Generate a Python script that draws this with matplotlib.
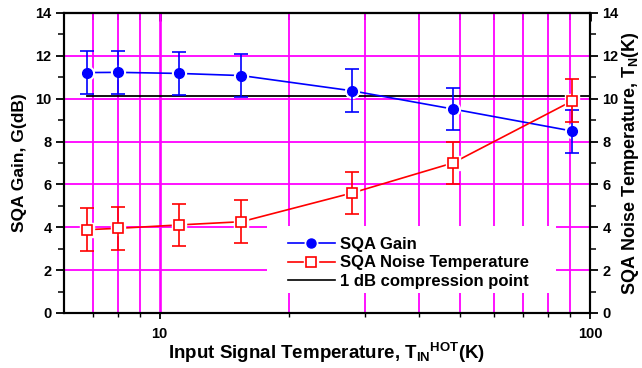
import numpy as np
import matplotlib
matplotlib.use("Agg")
import matplotlib.pyplot as plt
from matplotlib.ticker import FixedLocator, NullFormatter, FixedFormatter, MultipleLocator
from matplotlib.patches import Rectangle
from matplotlib.lines import Line2D

plt.rcParams['font.family'] = ['Liberation Sans', 'DejaVu Sans']
plt.rcParams['font.weight'] = 'bold'
plt.rcParams['mathtext.fontset'] = 'custom'
plt.rcParams['mathtext.rm'] = 'Liberation Sans:bold'
plt.rcParams['mathtext.bf'] = 'Liberation Sans:bold'
plt.rcParams['mathtext.it'] = 'Liberation Sans:bold'
plt.rcParams['mathtext.default'] = 'bf'

# data
t_in = [6.8, 8.0, 11.1, 15.5, 28, 48, 91]
gain = [11.22, 11.23, 11.18, 11.08, 10.37, 9.52, 8.49]
gain_err = [1, 1, 1, 1, 1, 1, 1]
noise_temp = [3.89, 3.95, 4.11, 4.26, 5.6, 7.0, 9.9]
noise_err = [1, 1, 1, 1, 1, 1, 1]
compression = 10.15

blue = '#0000FF'
red = '#FF0000'
mag = '#FF00FF'
minor_x = [7, 8, 9, 20, 30, 40, 50, 60, 70, 80, 90]

fig = plt.figure(figsize=(6.42, 3.68), dpi=100)
ax = fig.add_axes([64/642, 55/368, 526/642, 300/368])

ax.set_xscale('log')
ax.set_xlim(6, 100)
ax.set_ylim(0, 14)

# grid
for v in minor_x:
    ax.axvline(v, color=mag, lw=1.3, zorder=0.5)
ax.axvline(10, color=mag, lw=1.9, zorder=0.5)
for v in [2, 4, 6, 8, 10, 12]:
    ax.axhline(v, color=mag, lw=1.3, zorder=0.5)

# white box behind legend
ax.add_patch(Rectangle((0.386, 0.067), 0.549, 0.223, transform=ax.transAxes,
                       facecolor='white', edgecolor='none', zorder=0.8))

# compression line
ax.plot([t_in[0], 100], [compression, compression], color='black', lw=1.3, zorder=2)

# gain
ax.plot(t_in, gain, color=blue, lw=1.2, zorder=3)
ax.plot(t_in, gain, ls='none', marker='o', ms=10, color='white', zorder=4)
ax.errorbar(t_in, gain, yerr=gain_err, fmt='none', ecolor=blue, elinewidth=1.2,
            capsize=5, capthick=1.2, zorder=5)
ax.plot(t_in, gain, ls='none', marker='o', ms=7, color=blue, zorder=6)

# noise temperature
ax.plot(t_in, noise_temp, color=red, lw=1.2, zorder=3)
ax.plot(t_in, noise_temp, ls='none', marker='s', ms=10, color='white', zorder=4)
ax.errorbar(t_in, noise_temp, yerr=noise_err, fmt='none', ecolor=red, elinewidth=1.2,
            capsize=5, capthick=1.2, zorder=5)
ax.plot(t_in, noise_temp, ls='none', marker='s', ms=7, mfc='white', mec=red,
        mew=1.2, zorder=6)

# legend
h_gain = (Line2D([], [], color=blue, lw=1.2),
          Line2D([], [], ls='none', marker='o', ms=9, color='white'),
          Line2D([], [], ls='none', marker='o', ms=6.5, color=blue))
h_noise = (Line2D([], [], color=red, lw=1.2),
           Line2D([], [], ls='none', marker='s', ms=10, color='white'),
           Line2D([], [], ls='none', marker='s', ms=7, mfc='white', mec=red, mew=1.2))
h_comp = Line2D([], [], color='black', lw=1.2)
leg = ax.legend([h_gain, h_noise, h_comp],
                ['SQA Gain', 'SQA Noise Temperature', '1 dB compression point'],
                loc='upper left', bbox_to_anchor=(0.405, 0.29), frameon=False,
                fontsize=12, handlelength=2.8, handletextpad=0.3,
                labelspacing=0.22, borderpad=0.15)
leg.set_zorder(7)

# ticks
ax.xaxis.set_major_locator(FixedLocator([10, 100]))
ax.xaxis.set_major_formatter(FixedFormatter(['10', '100']))
ax.xaxis.set_minor_locator(FixedLocator(minor_x))
ax.xaxis.set_minor_formatter(NullFormatter())
ax.tick_params(axis='x', which='major', direction='out', length=4, width=1.3,
               labelsize=10.5, pad=6)
ax.tick_params(axis='x', which='minor', direction='out', length=3, width=1)
top = ax.secondary_xaxis('top')
top.xaxis.set_major_locator(FixedLocator([10, 100]))
top.xaxis.set_minor_locator(FixedLocator(minor_x))
top.xaxis.set_minor_formatter(NullFormatter())
top.tick_params(axis='x', which='major', direction='in', length=6, width=2, labeltop=False)
top.tick_params(axis='x', which='minor', direction='in', length=5, width=1.2)
top.spines['top'].set_linewidth(1.5)

ax.yaxis.set_major_locator(MultipleLocator(2))
ax.yaxis.set_minor_locator(MultipleLocator(1))
ax.tick_params(axis='y', which='major', direction='out', length=6, width=1.3,
               labelsize=10.5, pad=3)
ax.tick_params(axis='y', which='minor', direction='out', length=4, width=1.1)

ax2 = ax.twinx()
ax2.set_ylim(0, 14)
ax2.yaxis.set_major_locator(MultipleLocator(2))
ax2.yaxis.set_minor_locator(MultipleLocator(1))
ax2.tick_params(axis='y', which='major', direction='out', length=6, width=1.3,
                labelsize=10.5, pad=3)
ax2.tick_params(axis='y', which='minor', direction='out', length=4, width=1.1)

for a in (ax, ax2):
    for s in a.spines.values():
        s.set_linewidth(1.5)

ax.set_xlabel(r'Input Signal Temperature, T$_{IN}{}^{HOT}$(K)', fontsize=13.5,
              fontweight='bold', labelpad=0)
ax.set_ylabel('SQA Gain, G(dB)', fontsize=12.5, fontweight='bold', labelpad=6)
ax2.set_ylabel(r'SQA Noise Temperature, T$_{N}$(K)', fontsize=13,
               fontweight='bold', rotation=90, labelpad=1)

fig.savefig('out.png', dpi=100)
